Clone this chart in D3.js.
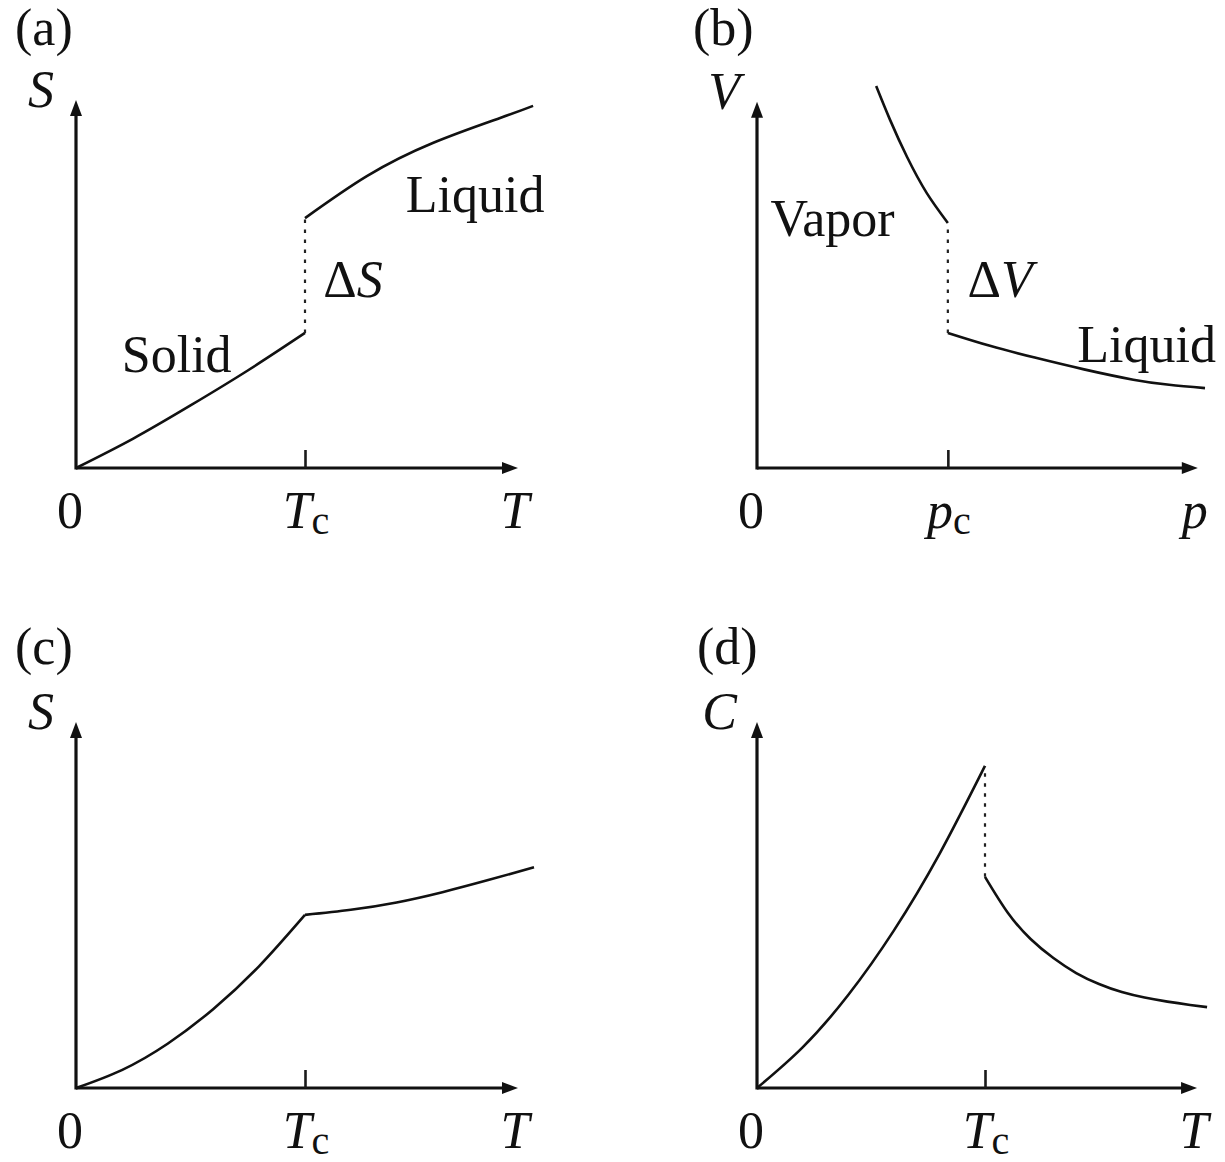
<!DOCTYPE html>
<html><head><meta charset="utf-8">
<script src="https://cdn.jsdelivr.net/npm/d3@7"></script>
<style>
body{margin:0;background:#fff}
svg{display:block}
text{font-family:"Liberation Serif","Times New Roman",serif;fill:#111}
</style>
</head><body>
<svg id="chart" width="1225" height="1162"></svg>
<script>
// ---------- data ----------
const panelLabels = ["(a)", "(b)", "(c)", "(d)"];
const yAxisLabels = ["S", "V", "S", "C"];
const xAxisLabels = ["T", "p", "T", "T"];
const criticalLabels = [["T","c"], ["p","c"], ["T","c"], ["T","c"]];
const criticalValues = [5, 4.26, 5, 5];

// (a) entropy vs temperature, first-order transition
const aSolidT  = [0, 1.25, 2.5, 3.75, 5];
const aSolidS  = [0, 0.8, 1.7, 2.65, 3.67];
const aLiquidT = [5, 6.35, 7.79, 9.26, 9.98];
const aLiquidS = [6.79, 7.93, 8.83, 9.51, 9.84];

// (b) volume vs pressure
const bVaporP  = [2.66, 2.97, 3.35, 3.79, 4.26];
const bVaporV  = [10.38, 9.46, 8.45, 7.47, 6.66];
const bLiquidP = [4.26, 5.2, 6.2, 7.3, 8.4, 9.2, 10];
const bLiquidV = [3.67, 3.32, 3.0, 2.68, 2.40, 2.26, 2.17];

// (c) entropy vs temperature, continuous transition
const cBelowT = [0, 1, 2, 3, 4, 5];
const cBelowS = [0, 0.49, 1.21, 2.16, 3.33, 4.73];
const cAboveT = [5, 6, 7, 8, 9, 10];
const cAboveS = [4.73, 4.87, 5.07, 5.35, 5.68, 6.03];

// (d) heat capacity vs temperature
const dBelowT = [0, 1, 2, 3, 4, 5];
const dBelowC = [0, 1.11, 2.54, 4.30, 6.39, 8.80];
const dAboveT = [5, 5.5, 6, 6.5, 7, 7.5, 8, 8.5, 9, 9.5, 9.87];
const dAboveC = [5.77, 4.79, 4.07, 3.55, 3.14, 2.84, 2.62, 2.47, 2.36, 2.27, 2.21];

// in-plot phase annotations [text, x, y]
const annotationsA = [["Solid", 1.0, 2.61], ["Liquid", 7.2, 6.96]];
const annotationsB = [["Vapor", 0.3, 6.3], ["Liquid", 7.15, 2.87]];

// ---------- layout ----------
const svg = d3.select("#chart");
const FS = 52;

const panels = [
  {x:[76,534],  y:[468,100],  xTip:9.65, yTip:10,
   curves:[[aSolidT,aSolidS],[aLiquidT,aLiquidS]],
   jump:[aSolidS[aSolidS.length-1], aLiquidS[0]], ann:annotationsA,
   delta:{sym:"S", x:5.4, y:4.65}, labX:15, labY:45, yLabDx:-22},
  {x:[757,1205], y:[468,100], xTip:9.84, yTip:9.95,
   curves:[[bVaporP,bVaporV],[bLiquidP,bLiquidV]],
   jump:[bVaporV[bVaporV.length-1], bLiquidV[0]], ann:annotationsB,
   delta:{sym:"V", x:4.7, y:4.65}, labX:693, labY:45, yLabDx:-17},
  {x:[76,534],  y:[1088,722], xTip:9.65, yTip:10,
   curves:[[cBelowT,cBelowS],[cAboveT,cAboveS]],
   jump:null, ann:[], delta:null, labX:15, labY:664, yLabDx:-22},
  {x:[757,1213], y:[1088,722], xTip:9.65, yTip:10,
   curves:[[dBelowT,dBelowC],[dAboveT,dAboveC]],
   jump:[dBelowC[dBelowC.length-1], dAboveC[0]], ann:[], delta:null,
   labX:697, labY:664, yLabDx:-20}
];

panels.forEach((p, i) => {
  const x = d3.scaleLinear().domain([0,10]).range(p.x);
  const y = d3.scaleLinear().domain([0,10]).range(p.y);
  const g = svg.append("g");
  const x0 = x(0), y0 = y(0);
  const xt = x(p.xTip), yt = y(p.yTip);
  const AL = 16, AW = 6;

  // axes lines
  g.append("line").attr("x1", x0).attr("y1", y0).attr("x2", xt - AL + 2).attr("y2", y0)
    .attr("stroke", "#111").attr("stroke-width", 3.2);
  g.append("line").attr("x1", x0).attr("y1", y0 + 1.6).attr("x2", x0).attr("y2", yt + AL - 2)
    .attr("stroke", "#111").attr("stroke-width", 3.2);
  // arrowheads
  g.append("path").attr("d", `M${xt},${y0} L${xt-AL},${y0-AW} L${xt-AL},${y0+AW} Z`).attr("fill", "#111");
  g.append("path").attr("d", `M${x0},${yt} L${x0-AW},${yt+AL} L${x0+AW},${yt+AL} Z`).attr("fill", "#111");

  // critical tick via d3 axis
  const ax = g.append("g").attr("transform", `translate(0,${y0})`)
    .call(d3.axisTop(x).tickValues([criticalValues[i]]).tickSize(18).tickFormat(""));
  ax.select(".domain").remove();
  ax.selectAll(".tick line").attr("stroke", "#1a1a1a").attr("stroke-width", 2.6);

  // curves
  const line = d3.line().x(d => x(d[0])).y(d => y(d[1])).curve(d3.curveNatural);
  p.curves.forEach(([xs, ys]) => {
    g.append("path").datum(xs.map((v, k) => [v, ys[k]]))
      .attr("d", line).attr("fill", "none").attr("stroke", "#111").attr("stroke-width", 2.6);
  });

  // discontinuity (dotted)
  if (p.jump) {
    const xc = x(criticalValues[i]);
    g.append("line").attr("x1", xc).attr("x2", xc)
      .attr("y1", y(Math.min(...p.jump))).attr("y2", y(Math.max(...p.jump)))
      .attr("stroke", "#222").attr("stroke-width", 2.2).attr("stroke-dasharray", "3.5,6.5");
  }

  // panel label
  g.append("text").attr("x", p.labX).attr("y", p.labY).attr("font-size", FS).text(panelLabels[i]);

  // y axis label
  g.append("text").attr("x", x0 + p.yLabDx).attr("y", yt + 7).attr("text-anchor", "end")
    .attr("font-size", FS).attr("font-style", "italic").text(yAxisLabels[i]);

  // x labels
  const by = y0 + 60;
  g.append("text").attr("x", x0 - 6).attr("y", by).attr("text-anchor", "middle")
    .attr("font-size", FS).text("0");
  const ct = g.append("text").attr("x", x(criticalValues[i]) + 1).attr("y", by).attr("text-anchor", "middle")
    .attr("font-size", FS);
  ct.append("tspan").attr("font-style", "italic").text(criticalLabels[i][0]);
  ct.append("tspan").attr("font-size", 40).attr("dy", 6).text(criticalLabels[i][1]);
  g.append("text").attr("x", xt - 3).attr("y", by).attr("text-anchor", "middle")
    .attr("font-size", FS).attr("font-style", "italic").text(xAxisLabels[i]);

  // annotations
  p.ann.forEach(([t, ax_, ay]) => {
    g.append("text").attr("x", x(ax_)).attr("y", y(ay)).attr("font-size", FS).text(t);
  });
  if (p.delta) {
    const dt = g.append("text").attr("x", x(p.delta.x)).attr("y", y(p.delta.y)).attr("font-size", FS);
    dt.append("tspan").text("Δ");
    dt.append("tspan").attr("font-style", "italic").text(p.delta.sym);
  }
});
</script>
</body></html>
